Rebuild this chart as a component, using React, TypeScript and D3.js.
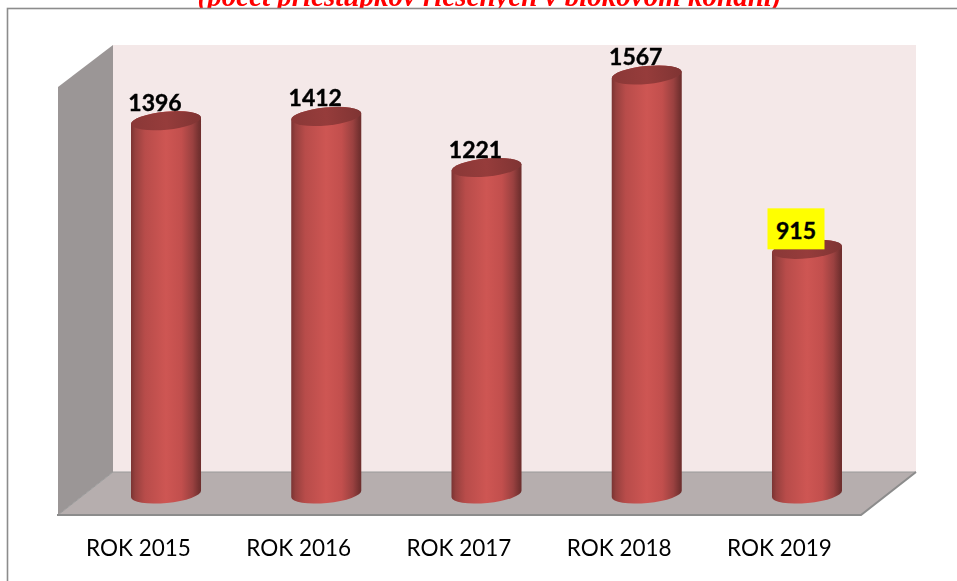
import React, { useEffect, useRef } from 'react';
import * as d3 from 'd3';

const years = ['ROK 2015', 'ROK 2016', 'ROK 2017', 'ROK 2018', 'ROK 2019'];
const offences = [1396, 1412, 1221, 1567, 915];
const highlighted = ['ROK 2019'];

const titleText = '(počet priestupkov riešených v blokovom konaní)';

const width = 957;
const height = 581;

const App = () => {
  const svgRef = useRef<SVGSVGElement>(null);

  useEffect(() => {
    const svg = d3.select(svgRef.current);
    svg.selectAll('*').remove();

    const labelFont = 'Lato, Carlito, "Open Sans", sans-serif';

    // Room corners of the fake 3D plot
    const back = { left: 113, right: 916, top: 45, bottom: 472 };
    const front = { left: 58, right: 861, top: 87, bottom: 515 };

    const x = d3.scaleBand<string>()
      .domain(years)
      .range([131, 842])
      .paddingInner(0.563)
      .paddingOuter(0);

    const y = d3.scaleLinear()
      .domain([0, 1567])
      .range([494, 75]);

    const defs = svg.append('defs');

    const barGradient = defs.append('linearGradient').attr('id', 'barBody');
    [
      ['0%', '#7a3332'],
      ['6%', '#96403e'],
      ['20%', '#b84c4a'],
      ['50%', '#ce5653'],
      ['72%', '#c24f4d'],
      ['88%', '#9a4140'],
      ['97%', '#743130'],
      ['100%', '#6e2e2d'],
    ].forEach(([offset, color]) => {
      barGradient.append('stop').attr('offset', offset).attr('stop-color', color);
    });

    const capGradient = defs.append('linearGradient').attr('id', 'barCap');
    [['0%', '#8a3837'], ['50%', '#963c3b'], ['100%', '#7f3433']].forEach(([offset, color]) => {
      capGradient.append('stop').attr('offset', offset).attr('stop-color', color);
    });

    // Title sits behind the chart frame, so the frame cuts it off
    svg.append('text')
      .attr('x', 489.5)
      .attr('y', 6)
      .attr('text-anchor', 'middle')
      .attr('font-family', '"Liberation Serif", serif')
      .attr('font-size', 29)
      .attr('font-weight', 'bold')
      .attr('font-style', 'italic')
      .attr('fill', '#ff0000')
      .text(titleText);

    svg.append('rect')
      .attr('x', 7.5)
      .attr('y', 8.5)
      .attr('width', width)
      .attr('height', height)
      .attr('fill', '#ffffff')
      .attr('stroke', '#8c8c8c')
      .attr('stroke-width', 1.6);

    // Walls and floor
    svg.append('rect')
      .attr('x', back.left)
      .attr('y', back.top)
      .attr('width', back.right - back.left)
      .attr('height', back.bottom - back.top)
      .attr('fill', '#f4e8e8');

    svg.append('path')
      .attr('d', `M${front.left},${front.top}L${back.left},${back.top}L${back.left},${back.bottom}L${front.left},${front.bottom}Z`)
      .attr('fill', '#9b9696');

    svg.append('path')
      .attr('d', `M${front.left},${front.bottom}L${back.left},${back.bottom}L${back.right},${back.bottom}L${front.right},${front.bottom}Z`)
      .attr('fill', '#b6aeae');

    svg.append('path')
      .attr('d', `M${front.left},${front.bottom}L${back.left},${back.bottom}L${back.right},${back.bottom}`)
      .attr('fill', 'none')
      .attr('stroke', '#9a9a9a')
      .attr('stroke-width', 1);

    svg.append('path')
      .attr('d', `M${front.left - 1},${front.bottom}L${front.right},${front.bottom}L${back.right},${back.bottom}`)
      .attr('fill', 'none')
      .attr('stroke', '#8c8c8c')
      .attr('stroke-width', 2);

    // Cylinders
    const rx = x.bandwidth() / 2;
    const ry = 9;
    const tilt = -5.5;
    const lift = rx * Math.sin((-tilt * Math.PI) / 180);

    const bars = svg.selectAll('g.bar')
      .data(years)
      .enter().append('g')
      .attr('class', 'bar')
      .attr('transform', d => `translate(${x(d)! + rx},0)`);

    bars.append('path')
      .attr('d', (d, i) => {
        const top = y(offences[i]);
        const base = y(0);
        return `M${-rx},${top + lift}L${-rx},${base + lift}`
          + `A${rx},${ry} ${tilt} 0 0 ${rx},${base - lift}`
          + `L${rx},${top - lift}`
          + `A${rx},${ry} ${tilt} 0 0 ${-rx},${top + lift}Z`;
      })
      .attr('fill', 'url(#barBody)');

    bars.append('ellipse')
      .attr('rx', rx)
      .attr('ry', ry)
      .attr('transform', (d, i) => `translate(0,${y(offences[i])}) rotate(${tilt})`)
      .attr('fill', 'url(#barCap)');

    // Value labels
    const labels = svg.selectAll('g.value')
      .data(years)
      .enter().append('g')
      .attr('class', 'value')
      .attr('transform', (d, i) => `translate(${x(d)! + rx - 11},${y(offences[i]) - 10})`);

    labels.filter(d => highlighted.includes(d))
      .append('rect')
      .attr('x', -28.5)
      .attr('y', -31)
      .attr('width', 57)
      .attr('height', 41)
      .attr('fill', '#ffff00');

    labels.append('text')
      .attr('text-anchor', 'middle')
      .attr('font-family', labelFont)
      .attr('font-size', 23)
      .attr('font-weight', 'bold')
      .attr('fill', '#000000')
      .attr('stroke', '#000000')
      .attr('stroke-width', 0.4)
      .text((d, i) => offences[i]);

    // Category axis
    svg.append('g')
      .attr('transform', 'translate(0,515)')
      .call(d3.axisBottom(x).tickSize(0).tickPadding(25))
      .call(g => g.select('.domain').remove())
      .selectAll('text')
      .attr('dx', -27.5)
      .attr('font-family', labelFont)
      .attr('font-size', 22.5)
      .attr('fill', '#000000');
  }, []);

  return (
    <svg
      ref={svgRef}
      width={width}
      height={height}
      style={{ position: 'fixed', left: 0, top: 0, display: 'block' }}
    />
  );
};

export default App;
